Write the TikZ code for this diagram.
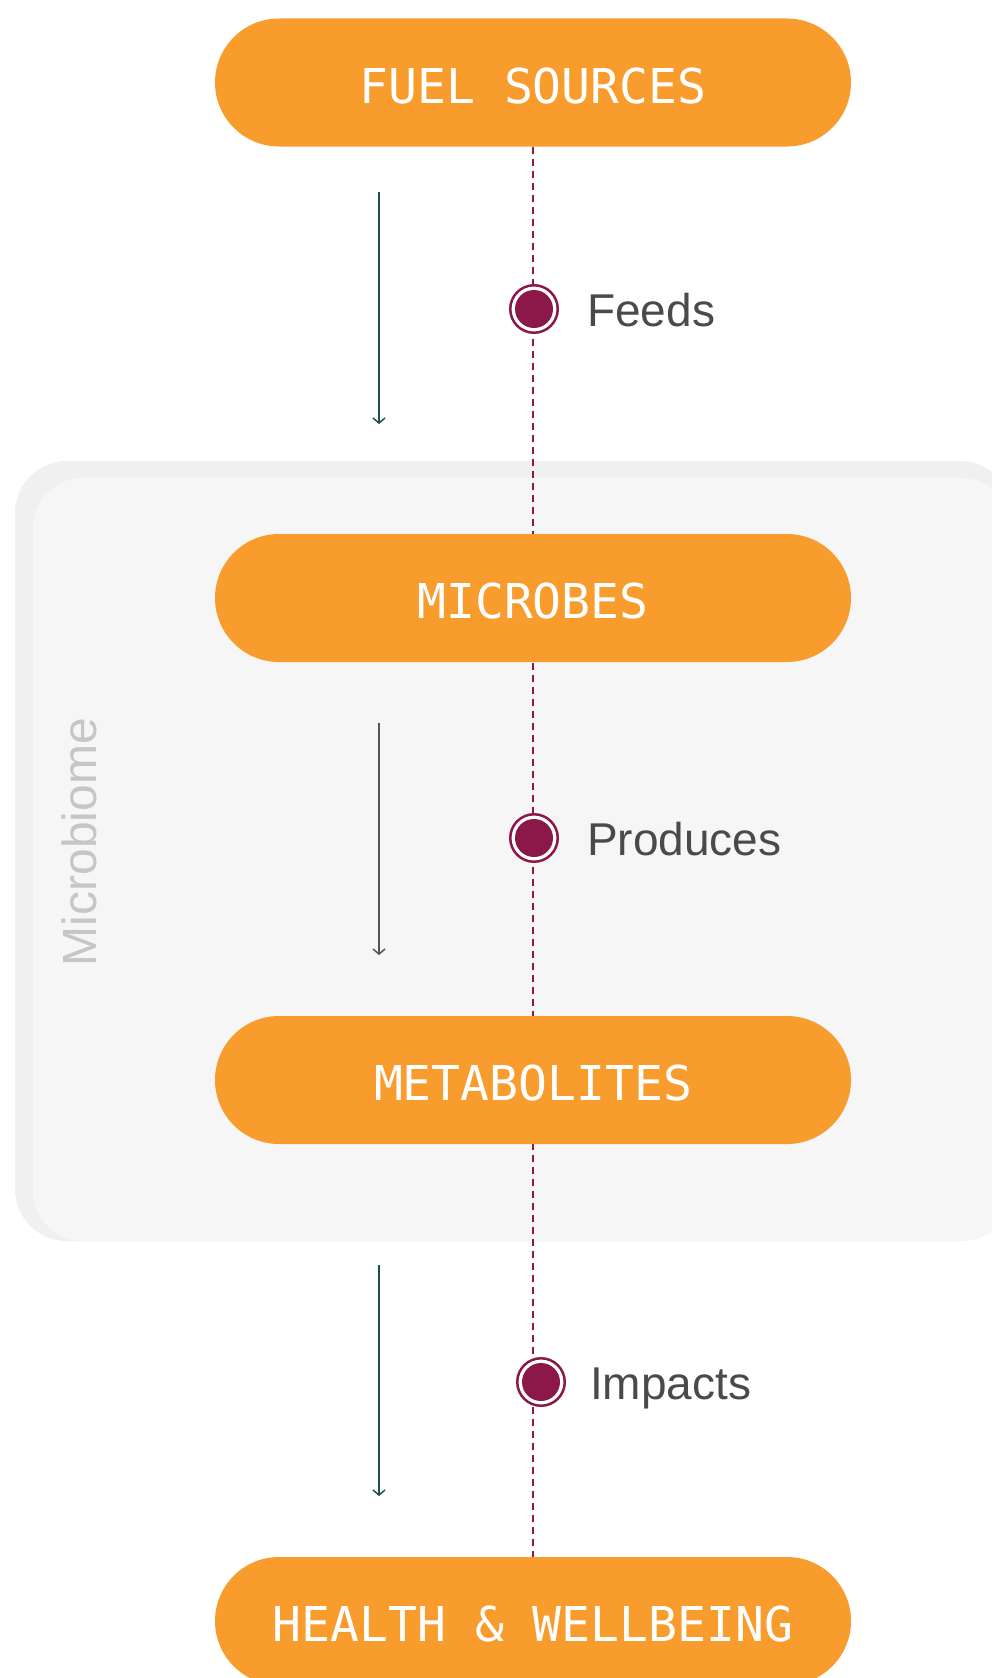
\documentclass[tikz,border=0pt]{standalone}
\usepackage{fontspec}
\setmainfont{Liberation Sans}
\newfontfamily\pillfont{DejaVu Sans Mono}
\usetikzlibrary{arrows.meta}
\definecolor{pillorange}{HTML}{F89C2E}
\definecolor{dotmaroon}{HTML}{8C1849}
\definecolor{arrowteal}{HTML}{1E4D4B}
\definecolor{arrowgray}{HTML}{555555}
\definecolor{lblgray}{HTML}{4A4A4A}
\definecolor{boxouter}{HTML}{F0F0F0}
\definecolor{boxinner}{HTML}{F6F6F6}
\definecolor{mbgray}{HTML}{C6C6C6}
\pgfdeclarelayer{bgzero}
\pgfdeclarelayer{bgone}
\pgfsetlayers{bgzero,bgone,main}
\tikzset{
  pillbox/.style={fill=pillorange, text=white, minimum width=636pt, minimum height=128pt,
    rounded corners=64pt, inner sep=0pt, text height=41pt, text depth=0pt,
    font=\pillfont\fontsize{48}{48}\selectfont},
  dotnode/.style={circle, draw=dotmaroon, line width=2.5pt, fill=white, minimum size=47.5pt,
    inner sep=0pt, path picture={\fill[dotmaroon] (path picture bounding box.center) circle (19pt);}},
  steplabel/.style={text=lblgray, font=\fontsize{46}{46}\selectfont, inner sep=0pt, anchor=base west},
  flowarrow/.style={line width=1.5pt, -{Straight Barb[length=5pt,width=12pt,line width=1.5pt]}},
  dashline/.style={draw=dotmaroon, line width=1.6pt, dash pattern=on 7pt off 5pt}
}
\begin{document}
\begin{tikzpicture}[x=1pt,y=-1pt]
\useasboundingbox (0,0) rectangle (991,1678);
\clip (0,0) rectangle (991,1678);

% background and microbiome panel
\begin{pgfonlayer}{bgzero}
\fill[white] (0,0) rectangle (991,1678);
\fill[boxouter, rounded corners=52pt] (15,461) rectangle (1012,1241);
\fill[boxinner, rounded corners=50pt] (33,478) rectangle (1012,1241);
\end{pgfonlayer}
\node[text=mbgray, rotate=90, font=\fontsize{48}{48}\selectfont, inner sep=0pt] (mblabel) at (79,842) {Microbiome};

% pills
\node[pillbox] (fuel) at (533,82.5) {FUEL SOURCES};
\node[pillbox] (microbes) at (533,598) {MICROBES};
\node[pillbox] (metab) at (533,1080) {METABOLITES};
\node[pillbox] (health) at (533,1621) {HEALTH \& WELLBEING};

% dashed spine
\begin{pgfonlayer}{bgone}
\draw[dashline] (fuel.south) -- (health.north);
\end{pgfonlayer}

% dots and labels
\node[dotnode] (d1) at (534,309) {};
\node[steplabel] (feeds) at (587,326) {Feeds};
\node[dotnode] (d2) at (534,838) {};
\node[steplabel] (produces) at (587,855) {Produces};
\node[dotnode] (d3) at (541,1382) {};
\node[steplabel] (impacts) at (590,1399) {Impacts};

% side arrows
\coordinate (a1s) at (379,192);
\coordinate (a1e) at (379,424);
\coordinate (a2s) at (379,723);
\coordinate (a2e) at (379,955);
\coordinate (a3s) at (379,1265);
\coordinate (a3e) at (379,1496);
\draw[flowarrow, arrowteal] (a1s) -- (a1e);
\draw[flowarrow, arrowgray] (a2s) -- (a2e);
\draw[flowarrow, arrowteal] (a3s) -- (a3e);
\end{tikzpicture}
\end{document}
